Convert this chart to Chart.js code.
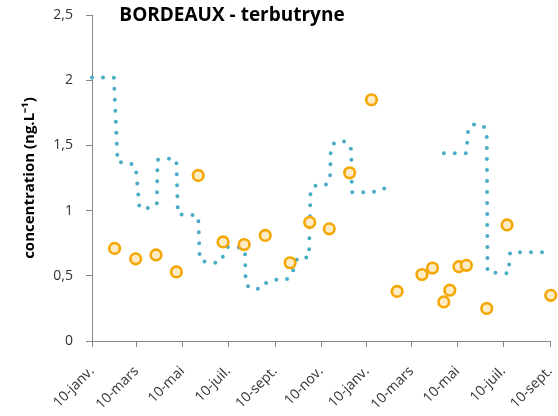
<!DOCTYPE html>
<html lang="fr">
<head>
<meta charset="utf-8">
<title>BORDEAUX - terbutryne</title>
<script src="https://cdn.jsdelivr.net/npm/chart.js@4/dist/chart.umd.min.js"></script>
<style>
  html, body { margin: 0; padding: 0; background: #fff; }
  canvas { display: block; }
</style>
</head>
<body>
<canvas id="graphe" width="558" height="416"></canvas>
<script>
(function () {
  'use strict';

  // origine de l'axe des dates
  var dateOrigine = '2013-01-10';

  // prélèvements ponctuels (cercles orange)
  var datesPrelevements = [
    '2013-02-09', '2013-03-09', '2013-04-05', '2013-05-02', '2013-05-31',
    '2013-07-03', '2013-07-31', '2013-08-28', '2013-09-30', '2013-10-26',
    '2013-11-21', '2013-12-18', '2014-01-16', '2014-02-19', '2014-03-24',
    '2014-04-07', '2014-04-22', '2014-04-30', '2014-05-12', '2014-05-22',
    '2014-06-18', '2014-07-15', '2014-09-11'
  ];
  var concentrations = [
    0.71, 0.63, 0.66, 0.53, 1.27,
    0.76, 0.74, 0.81, 0.60, 0.91,
    0.86, 1.29, 1.85, 0.38, 0.51,
    0.56, 0.30, 0.39, 0.57, 0.58,
    0.25, 0.89, 0.35
  ];

  // concentration moyenne en pointillés (null = pas de mesure)
  var datesMoyenne = [
    '2013-01-10', '2013-02-08', '2013-02-13', '2013-02-27', '2013-03-09',
    '2013-03-14', '2013-03-29', '2013-04-06', '2013-04-07', '2013-04-20',
    '2013-05-02', '2013-05-04', '2013-05-18', '2013-05-31', '2013-06-02',
    '2013-06-14', '2013-06-28', '2013-07-04', '2013-07-09', '2013-07-23',
    '2013-08-01', '2013-08-02', '2013-08-08', '2013-08-23', '2013-08-30',
    '2013-09-11', '2013-09-25', '2013-10-02', '2013-10-10', '2013-10-25',
    '2013-10-27', '2013-10-31', '2013-11-15', '2013-11-22', '2013-11-23',
    '2013-11-30', '2013-12-14', '2013-12-20', '2013-12-21', '2014-01-03',
    '2014-01-18', '2014-01-27', '2014-02-11', '2014-03-15',
    '2014-04-22', '2014-05-22', '2014-05-24', '2014-05-28', '2014-06-11',
    '2014-06-18', '2014-06-19', '2014-07-03', '2014-07-17', '2014-07-18',
    '2014-07-19', '2014-09-01'
  ];
  var moyenne = [
    2.02, 2.02, 1.37, 1.37, 1.34,
    1.02, 1.02, 1.05, 1.39, 1.40,
    1.39, 0.97, 0.97, 0.96, 0.62,
    0.60, 0.60, 0.66, 0.72, 0.72,
    0.70, 0.44, 0.40, 0.40, 0.45,
    0.47, 0.47, 0.51, 0.64, 0.64,
    1.13, 1.19, 1.19, 1.23, 1.49,
    1.53, 1.53, 1.47, 1.14, 1.14,
    1.14, 1.17, 1.17, null,
    1.44, 1.44, 1.60, 1.66, 1.66,
    1.62, 0.53, 0.52, 0.52, 0.61,
    0.68, 0.68
  ];

  // graduations de l'axe des dates
  var datesGraduations = [
    '2013-01-10', '2013-03-10', '2013-05-10', '2013-07-10', '2013-09-10', '2013-11-10',
    '2014-01-10', '2014-03-10', '2014-05-10', '2014-07-10', '2014-09-10'
  ];
  var libellesGraduations = [
    '10-janv.', '10-mars', '10-mai', '10-juil.', '10-sept.', '10-nov.',
    '10-janv.', '10-mars', '10-mai', '10-juil.', '10-sept.'
  ];

  var yMin = 0, yMax = 2.5, yPas = 0.5;

  function jour(d) {
    return (Date.parse(d) - Date.parse(dateOrigine)) / 86400000;
  }
  function points(dates, valeurs) {
    return dates.map(function (d, i) { return { x: jour(d), y: valeurs[i] }; });
  }

  var gris = '#868686';
  var texte = '#333333';
  var police = '"Open Sans", "Liberation Sans", sans-serif';
  Chart.defaults.font.family = police;

  // titre posé dans la zone du graphique
  var titre = {
    id: 'titreInterne',
    afterDraw: function (chart) {
      var ctx = chart.ctx;
      ctx.save();
      ctx.font = 'bold 19px ' + police;
      ctx.fillStyle = '#000';
      ctx.textAlign = 'center';
      ctx.textBaseline = 'alphabetic';
      ctx.fillText('BORDEAUX - terbutryne', 232, 21);
      ctx.restore();
    }
  };

  new Chart(document.getElementById('graphe').getContext('2d'), {
    type: 'scatter',
    data: {
      datasets: [{
        label: 'prélèvements',
        data: points(datesPrelevements, concentrations),
        order: 0,
        pointRadius: 5.3,
        pointHoverRadius: 5.3,
        pointBorderWidth: 2.6,
        pointBorderColor: '#f5a600',
        pointBackgroundColor: '#fdebc6',
        showLine: false,
        clip: false
      }, {
        label: 'moyenne',
        data: points(datesMoyenne, moyenne),
        order: 1,
        showLine: true,
        spanGaps: false,
        pointRadius: 0,
        borderColor: '#4bacc6',
        borderWidth: 4,
        borderDash: [0, 11],
        borderCapStyle: 'round',
        tension: 0,
        clip: false
      }]
    },
    options: {
      responsive: false,
      animation: false,
      events: [],
      layout: { padding: { top: 15, right: 8, bottom: 0, left: 0 } },
      plugins: {
        legend: { display: false },
        tooltip: { enabled: false },
        title: { display: false }
      },
      scales: {
        x: {
          type: 'linear',
          min: jour(datesGraduations[0]),
          max: jour(datesGraduations[datesGraduations.length - 1]),
          afterBuildTicks: function (scale) {
            scale.ticks = datesGraduations.map(function (d) { return { value: jour(d) }; });
          },
          afterFit: function (scale) {
            scale.height = 75;
            scale.paddingLeft = 0;
            scale.paddingRight = 0;
          },
          grid: { display: true, drawOnChartArea: false, tickLength: 6, color: gris },
          border: { display: true, color: gris, width: 1 },
          ticks: {
            autoSkip: false,
            minRotation: 45,
            maxRotation: 45,
            padding: 16,
            color: texte,
            font: { size: 14 },
            callback: function (v, i) { return libellesGraduations[i]; }
          }
        },
        y: {
          min: yMin,
          max: yMax,
          afterFit: function (scale) {
            scale.width = 92;
            scale.paddingTop = 0;
            scale.paddingBottom = 0;
          },
          grid: { display: true, drawOnChartArea: false, tickLength: 6, color: gris },
          border: { display: true, color: gris, width: 1 },
          ticks: {
            stepSize: yPas,
            padding: 13,
            color: texte,
            font: { size: 14 },
            callback: function (v) { return String(v).replace('.', ','); }
          },
          title: {
            display: true,
            text: 'concentration (ng.L⁻¹)',
            color: '#000',
            font: { size: 15, weight: 'bold' },
            padding: { top: 21, bottom: 0 }
          }
        }
      }
    },
    plugins: [titre]
  });
})();
</script>
</body>
</html>
